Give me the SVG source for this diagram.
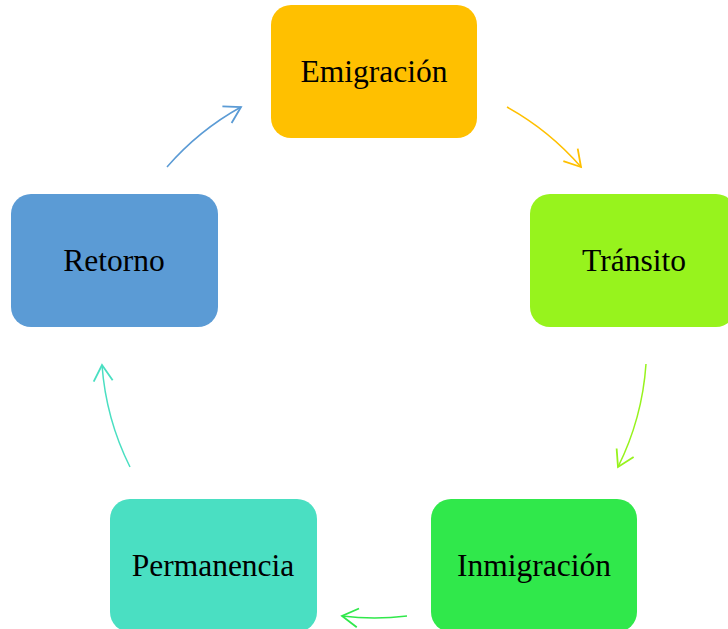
<svg xmlns="http://www.w3.org/2000/svg" width="728" height="629" viewBox="0 0 728 629">
<style>
.box{stroke:none}
.lbl{font-family:"Liberation Serif","Times New Roman",serif;font-size:31.5px;fill:#000;text-anchor:middle}
.c{fill:none;stroke-width:1.5}
</style>
<defs>
<marker id="mO" markerUnits="userSpaceOnUse" markerWidth="40" markerHeight="40" refX="0" refY="0" viewBox="-20 -20 40 40" orient="auto"><path d="M-16,-9.5 L0,0 L-16,9.5" fill="none" stroke="#FFC000" stroke-width="1.8"/></marker>
<marker id="mL" markerUnits="userSpaceOnUse" markerWidth="40" markerHeight="40" refX="0" refY="0" viewBox="-20 -20 40 40" orient="auto"><path d="M-16,-9.5 L0,0 L-16,9.5" fill="none" stroke="#97F31D" stroke-width="1.8"/></marker>
<marker id="mG" markerUnits="userSpaceOnUse" markerWidth="40" markerHeight="40" refX="0" refY="0" viewBox="-20 -20 40 40" orient="auto"><path d="M-16,-9.5 L0,0 L-16,9.5" fill="none" stroke="#30E84B" stroke-width="1.8"/></marker>
<marker id="mT" markerUnits="userSpaceOnUse" markerWidth="40" markerHeight="40" refX="0" refY="0" viewBox="-20 -20 40 40" orient="auto"><path d="M-16,-9.5 L0,0 L-16,9.5" fill="none" stroke="#4ADFC2" stroke-width="1.8"/></marker>
<marker id="mB" markerUnits="userSpaceOnUse" markerWidth="40" markerHeight="40" refX="0" refY="0" viewBox="-20 -20 40 40" orient="auto"><path d="M-16,-9.5 L0,0 L-16,9.5" fill="none" stroke="#5B9BD5" stroke-width="1.8"/></marker>
</defs>
<rect width="728" height="629" fill="#fff"/>
<g id="connectors">
<path class="c" stroke="#FFC000" d="M507,107 A273,273 0 0 1 581,167" marker-end="url(#mO)"/>
<path class="c" stroke="#97F31D" d="M646,364 A273,273 0 0 1 618,467" marker-end="url(#mL)"/>
<path class="c" stroke="#30E84B" d="M407,616 A273,273 0 0 1 342,616" marker-end="url(#mG)"/>
<path class="c" stroke="#4ADFC2" d="M130,467 A273,273 0 0 1 102,365" marker-end="url(#mT)"/>
<path class="c" stroke="#5B9BD5" d="M167,167 A273,273 0 0 1 241,107" marker-end="url(#mB)"/>
</g>
<g id="emigracion">
<rect class="box" x="271" y="5" width="206" height="133" rx="20" fill="#FFC000"/>
<text class="lbl" x="374" y="82">Emigración</text>
</g>
<g id="transito">
<rect class="box" x="530" y="194" width="206" height="133" rx="20" fill="#97F31D"/>
<text class="lbl" x="634" y="271">Tránsito</text>
</g>
<g id="inmigracion">
<rect class="box" x="431" y="499" width="206" height="133" rx="20" fill="#30E84B"/>
<text class="lbl" x="534" y="576">Inmigración</text>
</g>
<g id="permanencia">
<rect class="box" x="110" y="499" width="207" height="133" rx="20" fill="#4ADFC2"/>
<text class="lbl" x="213" y="576">Permanencia</text>
</g>
<g id="retorno">
<rect class="box" x="11" y="194" width="207" height="133" rx="20" fill="#5B9BD5"/>
<text class="lbl" x="114" y="271">Retorno</text>
</g>
</svg>
